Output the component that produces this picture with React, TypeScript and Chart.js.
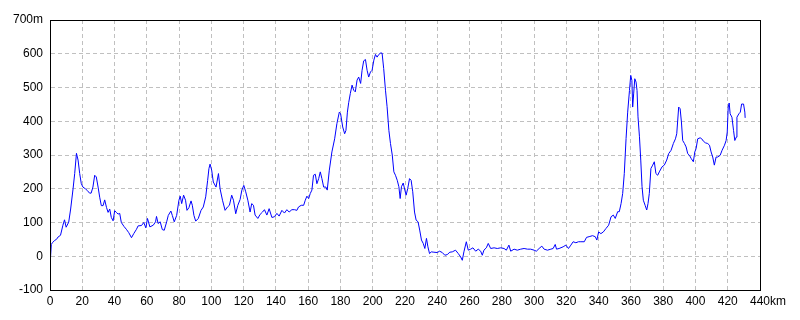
import React, { useEffect, useRef } from "react";
import { Chart, registerables } from "chart.js";

Chart.register(...registerables);

// distance along route (km)
const distanceKm: number[] = [
  0, 0.8, 1.5, 2.9, 4, 5, 6.5, 8, 9, 10, 11.6, 12.8, 14.3, 15.3, 16.4, 17.4, 18.4, 19.4, 20.4, 21.9,
  23.1, 24.5, 25.5, 26.6, 27.7, 28.7, 29.8, 30.8, 31.8, 32.9, 33.9, 35, 36, 37, 38, 39.1, 40.1, 41.1,
  42.2, 43.2, 44.2, 45.9, 47.3, 48.8, 50.5, 51.9, 53.6, 54.6, 56.7, 58.1, 59.4, 60.4,
  61.9, 64, 65.4, 66, 67, 68.3, 69.6, 70.8, 72.3, 73.3, 74.9, 75.8, 77, 78.5, 79.9, 80.7, 81.6, 82.8,
  84, 84.9, 86.1, 87.4, 88.2, 89.2, 90.3, 91.9, 93.6, 95, 96.5, 97.7, 98.5, 99.2, 100.2, 101.2, 102.9,
  104.4, 105.4, 106.9, 108.5, 110, 111.2, 112.6, 113.7, 115.1, 116.4, 117.8, 118.9, 120.1, 121.3,
  122.6, 124,
  125, 126.1, 127.1, 128.8, 130.2, 131.7, 132.9, 134.4, 135.8, 137.5, 139.1, 140.6, 142, 143.7, 145.3,
  146.8, 148.2, 149.9, 151.5, 153, 154, 155.7, 157.2, 158.2, 159.2, 160.3, 161.3, 162.3, 163.3, 164.4,
  165.4, 166.5, 167.5, 168.5, 169.6, 171, 171.8, 173.1, 174.7, 176.4, 177.8, 179.3, 180.1, 181.4,
  182.6, 183.4, 184.3,
  185.1, 186.1, 187.2, 188.2, 189.2, 190.3, 191.3, 192.5, 193.4, 194.4, 195.5, 196.5, 197.5, 198.6,
  199.6, 200.7, 201.7, 202.7, 203.8, 204.8, 205.8, 206.8, 207.9, 208.9, 210, 211, 212.1, 213.1, 214.1,
  215.2, 216.2, 217, 217.8, 218.9, 219.9, 220.7, 221.7, 222.8, 223.8, 224.8, 225.9, 226.9, 228.1,
  229.2, 230.2, 231.3, 232.3, 233.3, 234.2, 235.2, 236.3, 237.9, 240, 241.4, 243.1, 244.7, 246.2, 247.8,
  249.3, 251.3, 253, 254.5, 255.5, 256.5, 258, 259.2, 260.7, 262.1, 263.8, 265.4, 266.9, 267.9, 268.9,
  270.4, 271.6, 273.1, 275.2, 277.2, 279.3, 281.4, 282.8, 284.4, 285.5, 287.6, 289.6, 291.7, 293.8,
  295.9, 297.9, 300, 301.4, 303.1, 304.8, 306.2, 308.3, 310.4, 311.8, 313.1, 313.9, 315.5,
  318, 319.7, 321.3, 322.8, 324.2, 325.9, 327.5, 329, 331.1, 332.5, 334.1, 336.2, 337.9, 338.9, 340,
  341.4, 342.9, 344.5, 346.2, 347.7, 349.1, 350.3, 351.8, 352.8, 353.9, 354.9, 355.9, 357, 358, 359.1,
  359.9, 360.6, 361.1, 361.7, 362.4, 363.2, 363.8, 364.4, 365.3, 366.1, 366.9, 367.7, 368.8, 369.8,
  370.6, 371.4,
  372.4, 373.5, 374.5, 375.5, 376.6, 377.6, 379.3, 380.7, 382.2, 383.4, 384.9, 386.3, 387.6, 388.4,
  389.6, 390.5, 391.3, 392.1, 393.2, 394.2, 395.2, 396.3, 397.3, 398.7, 399.6, 400.4, 401.4, 402.9,
  403.9, 404.9, 406.2, 407.6, 408.7, 409.7, 410.7, 411.7, 412.8, 413.8, 415.3, 416.5, 418, 419, 419.7,
  420.3, 420.9, 421.5, 422.6, 423.6, 424.4, 425.3, 425.7, 426.9, 427.8, 428.6, 429.8, 430.6, 430.8,
];

// elevation (m)
const elevationM: number[] = [
  -30, 35, 40, 47, 50, 57, 62, 92, 108, 86, 101, 140, 200, 245, 305, 285, 245, 215, 205, 200,
  195, 187, 187, 205, 240, 235, 205, 175, 150, 150, 167, 145, 130, 140, 115, 105, 135, 130,
  125, 127, 100, 88, 80, 70, 55, 67, 80, 90, 91, 100, 84, 112,
  87, 92, 102, 118, 97, 102, 79, 77, 102, 121, 134, 121, 102, 121, 166, 178, 156, 181,
  166, 136, 144, 164, 151, 121, 104, 112, 136, 146, 176, 225, 260, 273, 255, 220, 205,
  245, 200, 166, 136, 146, 151, 181, 166, 126, 151, 168, 196, 210, 191,
  166, 131,
  156, 151, 122, 112, 124, 131, 138, 122, 141, 115, 117, 127, 119, 136, 128,
  138, 131, 138, 138, 136, 146, 151, 151, 166, 178, 171, 186, 196, 240, 243,
  215, 230, 250, 230, 205, 205, 196, 255, 309, 348, 393, 427, 422, 383,
  363, 373, 427,
  455, 482, 507, 492, 487, 522, 531, 512, 551, 579, 583, 551, 531, 546,
  551, 581, 598, 590, 598, 602, 602, 556, 492, 443, 373, 334, 300, 250, 240,
  225, 206, 171, 206, 217, 196, 181, 201, 230, 225, 191, 131, 107, 102,
  75, 48, 38, 23, 53, 28, 8, 13, 12, 11, 15, 11, 3, 5, 12,
  13, 18, 8, -2, -12, 13, 43, 18, 21, 25, 15, 21, 15, 3, 18,
  25, 38, 23, 25, 23, 25, 23, 18, 33, 15, 21, 18, 21, 23,
  21, 21, 18, 15, 23, 30, 21, 18, 21, 23, 35, 21, 23,
  28, 33, 23, 33, 43, 40, 43, 43, 43, 56, 58, 61, 58, 48, 72,
  67, 72, 82, 92, 117, 122, 112, 132, 132, 156, 186, 245, 349, 427, 491,
  536, 521, 442, 481, 526, 516, 491, 413, 354, 285, 206, 166, 151, 137,
  156, 186,
  260, 270, 280, 245, 240, 250, 265, 270, 285, 304, 314, 334, 348, 363,
  442, 437, 398, 343, 334, 324, 304, 299, 290, 280, 309, 319, 348, 351,
  348, 341, 336, 334, 329, 309, 294, 270, 294, 294, 299, 314, 329, 343, 368,
  442, 454, 422, 412, 373, 343, 353, 412, 422, 427, 451, 451, 427, 410,
];

const xRange: number[] = [0, 440, 20];
const yRange: number[] = [-100, 700, 100];
const xUnit = "km";
const yUnit = "m";

const FONT_FAMILY = '"Liberation Sans Narrow", "Liberation Sans", Arial, sans-serif';

const framePlugin = {
  id: "frameAndUnits",
  afterDraw(chart: any) {
    const { ctx, chartArea } = chart;
    ctx.save();
    ctx.strokeStyle = "#000000";
    ctx.lineWidth = 1;
    ctx.strokeRect(
      Math.round(chartArea.left) + 0.5,
      Math.round(chartArea.top) + 0.5,
      Math.round(chartArea.right - chartArea.left),
      Math.round(chartArea.bottom - chartArea.top)
    );
    // unit after last x label
    const xs = chart.scales.x;
    const items = xs.getLabelItems();
    const last = items[items.length - 1];
    if (last) {
      ctx.font = last.font.string;
      ctx.fillStyle = "#000000";
      ctx.textAlign = "left";
      ctx.textBaseline = last.options.textBaseline;
      const w = ctx.measureText(String(last.label)).width;
      ctx.fillText(xUnit, last.options.translation[0] + w / 2, last.options.translation[1] + last.textOffset);
    }
    ctx.restore();
  },
};

export default function App() {
  const ref = useRef<HTMLCanvasElement | null>(null);
  useEffect(() => {
    if (!ref.current) return;
    const points = distanceKm.map((d, i) => ({ x: d, y: elevationM[i] }));
    const chart = new Chart(ref.current, {
      type: "line",
      data: {
        datasets: [
          {
            data: points,
            borderColor: "#0000ff",
            borderWidth: 1,
            pointRadius: 0,
            tension: 0,
            fill: false,
          },
        ],
      },
      options: {
        animation: false,
        responsive: false,
        maintainAspectRatio: false,
        layout: { padding: { top: 20, right: 40, left: 0, bottom: 0 } },
        plugins: { legend: { display: false }, tooltip: { enabled: false } },
        scales: {
          x: {
            type: "linear",
            min: xRange[0],
            max: xRange[1],
            afterFit: (s: any) => {
              s.height = 30;
            },
            ticks: {
              stepSize: xRange[2],
              color: "#000000",
              padding: 4,
              maxRotation: 0,
              autoSkip: false,
              font: { family: FONT_FAMILY, size: 12 },
              callback: (v: any) => String(v),
            },
            grid: {
              color: "#c0c0c0",
              drawTicks: false,
              tickBorderDash: [4, 3],
            },
            border: { display: true, color: "#000000", dash: [4, 3] },
          } as any,
          y: {
            min: yRange[0],
            max: yRange[1],
            afterFit: (s: any) => {
              s.width = 50;
            },
            ticks: {
              stepSize: yRange[2],
              color: "#000000",
              padding: 7,
              font: { family: FONT_FAMILY, size: 12 },
              callback: (v: any) => (v === yRange[1] ? `${v}${yUnit}` : String(v)),
            },
            grid: {
              color: "#c0c0c0",
              drawTicks: false,
            },
            border: { display: true, color: "#000000", dash: [4, 3] },
          } as any,
        },
      },
      plugins: [framePlugin],
    });
    return () => chart.destroy();
  }, []);
  return (
    <div style={{ position: "absolute", left: 0, top: 0, width: 800, height: 320, background: "#ffffff" }}>
      <canvas ref={ref} width={800} height={320} style={{ width: 800, height: 320 }} />
    </div>
  );
}
